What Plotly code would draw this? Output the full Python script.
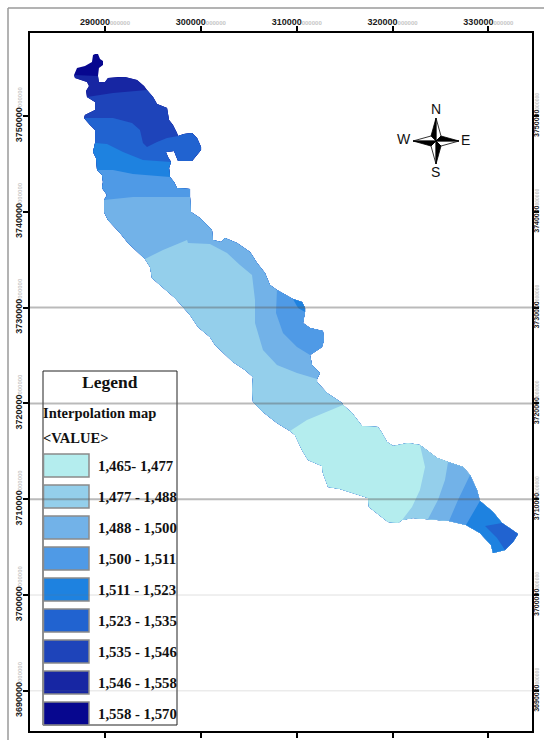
import numpy as np
import plotly.graph_objects as go

# ---------- data ----------
X_TICKS = [290000, 300000, 310000, 320000, 330000]
Y_TICKS = [3690000, 3700000, 3710000, 3720000, 3730000, 3740000, 3750000]
X_RANGE = [282175, 334549]
Y_RANGE = [3685808, 3758665]
GRID_DARK = [3730000, 3720000, 3710000]
GRID_LIGHT = [3700000, 3690000]

LEGEND_LABELS = ["1,465- 1,477", "1,477 - 1,488", "1,488 - 1,500", "1,500 - 1,511", "1,511 - 1,523",
                 "1,523 - 1,535", "1,535 - 1,546", "1,546 - 1,558", "1,558 - 1,570"]
CLASS_COLORS = ["#B4EDEE", "#94CFEB", "#72B2E8", "#4F9AE6", "#1E82E0", "#2163D0", "#1E44BA", "#1726A3", "#07078F"]

OUTLINE_E = [288960, 289270, 289480, 289790, 289790, 289370, 289270, 289370, 290000, 290310, 291360, 292090, 293340,
             294070, 294380, 295010, 295430, 296470, 296680, 297090, 297510, 297620, 298240, 299080, 299600, 300020,
             300020, 299390, 299080, 297620, 297410, 297200, 296360, 296570, 296890, 296680, 296780, 296780, 297200,
             297510, 298870, 298870, 298970, 299910, 301160, 301270, 302100, 302520, 303770, 305130, 305860, 306690,
             307210, 307940, 309610, 310550, 310870, 310870, 310660, 311390, 312740, 312850, 312640, 311390, 311600,
             312430, 312120, 312120, 313160, 314730, 314830, 315770, 316810, 318480, 318900, 319420, 320050, 321610,
             322860, 324640, 325790, 327350, 328080, 328810, 329120, 330480, 331420, 333090, 332570, 331730, 330480,
             330270, 329120, 327660, 325890, 323700, 322130, 320990, 320570, 319530, 318380, 317540, 317440, 315770,
             314520, 313270, 312740, 312640, 311180, 310550, 309820, 309300, 307940, 306480, 305440, 305340, 305440,
             304610, 303350, 301480, 300950, 299700, 298870, 297300, 296050, 294900, 294700, 294170, 292400, 291570,
             290310, 289900, 289900, 290210, 289690, 289790, 289690, 289170, 289060, 288750, 288960, 288960, 288440,
             287810, 287910, 288960, 288960, 288120, 288020, 288330, 288120, 286870, 286770, 287080, 287910, 288640,
             288750]
OUTLINE_N = [3756470, 3756470, 3755950, 3755740, 3755330, 3755010, 3754180, 3753550, 3753550, 3753970, 3754070,
             3754070, 3753760, 3753130, 3752720, 3751980, 3751250, 3750840, 3749580, 3749060, 3748230, 3747910,
             3748120, 3748230, 3747710, 3746770, 3746450, 3745720, 3745310, 3745310, 3745930, 3746350, 3746240,
             3745720, 3745200, 3744570, 3743840, 3743640, 3743110, 3742490, 3742380, 3741550, 3739980, 3739360,
             3738100, 3737060, 3736850, 3737270, 3736750, 3735810, 3734660, 3733610, 3732360, 3731840, 3730900,
             3730590, 3729960, 3729540, 3728400, 3727870, 3727560, 3726620, 3725890, 3725060, 3724010, 3723180,
             3722550, 3722240, 3721090, 3720050, 3719840, 3719000, 3717640, 3717540, 3716910, 3715970, 3715560,
             3715870, 3715660, 3714300, 3713890, 3713360, 3712530, 3710960, 3709820, 3708670, 3707520, 3706370,
             3705540, 3704700, 3704390, 3705220, 3706480, 3707310, 3707730, 3707940, 3708040, 3707830, 3707520,
             3707620, 3708560, 3709190, 3710130, 3710650, 3711070, 3711280, 3712740, 3713470, 3714100, 3715140,
             3716710, 3717120, 3717960, 3719110, 3720150, 3721400, 3722760, 3723490, 3724320, 3726100, 3726930,
             3727980, 3729230, 3731010, 3732050, 3733090, 3734240, 3735080, 3736750, 3737790, 3739150, 3739980,
             3741230, 3741760, 3742490, 3743110, 3743840, 3744370, 3745620, 3746240, 3747180, 3748540, 3749060,
             3749790, 3750110, 3750630, 3751460, 3751980, 3752610, 3753130, 3753550, 3753970, 3754280, 3755010,
             3755220, 3755640, 3756370]

# class boundaries: each runs from its first outline point to its last
BOUNDARY_1546_E = [286770, 289270]
BOUNDARY_1546_N = [3754280, 3754180]
BOUNDARY_1535_E = [288120, 290830, 294380]
BOUNDARY_1535_N = [3751980, 3752400, 3752720]
BOUNDARY_1523_E = [287810, 290830, 292820, 293650, 293960, 294380, 295430, 296470, 297620]
BOUNDARY_1523_N = [3749790, 3749790, 3749270, 3748540, 3747180, 3746770, 3747290, 3747710, 3747910]
BOUNDARY_1511_E = [288960, 290210, 291880, 293960, 296890]
BOUNDARY_1511_N = [3747180, 3747080, 3746240, 3745410, 3745200]
BOUNDARY_1500_E = [289170, 290830, 292920, 296780]
BOUNDARY_1500_N = [3744370, 3744370, 3743950, 3743640]
BOUNDARY_1488_E = [289900, 292920, 296470, 298870]
BOUNDARY_1488_N = [3741230, 3741550, 3741550, 3741550]
BOUNDARY_1477_E = [294170, 296050, 298560, 298660, 300950, 302730, 304080, 305340, 305650, 305650, 306480, 307940,
                   310030, 312120]
BOUNDARY_1477_N = [3735080, 3736020, 3737060, 3736750, 3736640, 3735700, 3734450, 3733410, 3730800, 3728400, 3725580,
                   3724010, 3723180, 3722550]
BOUNDARY_1465_E = [309300, 311070, 314830]
BOUNDARY_1465_N = [3717120, 3718270, 3719840]
SE_1477_E = [320990, 322030, 322860, 323390, 322860]
SE_1477_N = [3707830, 3709190, 3710960, 3713360, 3715660]
SE_1488_E = [323700, 324740, 325470, 325790]
SE_1488_N = [3707940, 3709920, 3712010, 3713890]
SE_1500_E = [325890, 326830, 328080]
SE_1500_N = [3707730, 3709920, 3712530]
SE_1511_E = [327660, 328290, 329120]
SE_1511_N = [3707310, 3708350, 3709820]
SE_1523_E = [331730, 330900, 329650, 331420]
SE_1523_N = [3704700, 3705950, 3707210, 3707520]
EAST_1500_E = [311390, 310030, 308570, 307840, 307940]
EAST_1500_N = [3725060, 3725890, 3727350, 3729440, 3731840]
EAST_1511_E = [310870, 310140, 309610]
EAST_1511_N = [3729540, 3729960, 3730900]

PAINT_ORDER = [
    (7, BOUNDARY_1546_E, BOUNDARY_1546_N), (6, BOUNDARY_1535_E, BOUNDARY_1535_N),
    (5, BOUNDARY_1523_E, BOUNDARY_1523_N), (4, BOUNDARY_1511_E, BOUNDARY_1511_N),
    (3, BOUNDARY_1500_E, BOUNDARY_1500_N), (2, BOUNDARY_1488_E, BOUNDARY_1488_N),
    (1, BOUNDARY_1477_E, BOUNDARY_1477_N), (0, BOUNDARY_1465_E, BOUNDARY_1465_N),
    (1, SE_1477_E, SE_1477_N), (2, SE_1488_E, SE_1488_N), (3, SE_1500_E, SE_1500_N),
    (4, SE_1511_E, SE_1511_N), (5, SE_1523_E, SE_1523_N),
    (3, EAST_1500_E, EAST_1500_N), (4, EAST_1511_E, EAST_1511_N),
]

# ---------- layout frame ----------
W, H = 544, 740
L, R, T, B = 30, 532, 33, 731


def px(x):
    return (x - L) / (R - L)


def py(y):
    return 1 - (y - T) / (B - T)


oe, on = np.array(OUTLINE_E), np.array(OUTLINE_N)


def nearest(e, n):
    return int(np.argmin((oe - e) ** 2 + (on - n) ** 2))


def region(be, bn):
    """Boundary line, then the outline clockwise from its last point back to its first."""
    i, j = nearest(be[-1], bn[-1]), nearest(be[0], bn[0])
    idx = [(i + k) % len(oe) for k in range((j - i) % len(oe) + 1)]
    return list(be) + oe[idx].tolist(), list(bn) + on[idx].tolist()


fig = go.Figure()


def add_poly(e, n, color):
    fig.add_trace(go.Scatter(x=e, y=n, mode="lines", fill="toself", fillcolor=color,
                             line=dict(width=0, color=color), hoverinfo="skip", showlegend=False))


add_poly(OUTLINE_E, OUTLINE_N, CLASS_COLORS[8])
for cls, be, bn in PAINT_ORDER:
    e, n = region(be, bn)
    add_poly(e, n, CLASS_COLORS[cls])

# keeps the right-hand axis alive
fig.add_trace(go.Scatter(x=[X_TICKS[0]], y=[Y_TICKS[0]], yaxis="y2", mode="none", hoverinfo="skip", showlegend=False))

SUFFIX = "<span style='font-size:6px;color:#c6c6c6'>000000</span>"
SUFFIX_RIGHT = "<span style='font-size:5px;color:#c6c6c6'>000000</span>"
tick_font = dict(family="Liberation Sans", size=9, color="#1a1a1a", weight="bold")
right_font = dict(family="Liberation Sans", size=7, color="#1a1a1a", weight="bold")
xt = [f"{v}{SUFFIX}" for v in X_TICKS]
yt = [f"{v}{SUFFIX}" for v in Y_TICKS]
yt_right = [f"{v}{SUFFIX_RIGHT}" for v in Y_TICKS]

shapes, annotations = [], []
# page border
for x0, y0, x1, y1 in [(8, 8, 544, 8), (8, 8, 8, 740)]:
    shapes.append(dict(type="line", xref="paper", yref="paper", x0=px(x0), x1=px(x1), y0=py(y0), y1=py(y1),
                       line=dict(color="#9a9a9a", width=1.5)))

# legend
LEG_L, LEG_R, LEG_T, LEG_B = 43, 177, 371, 725
shapes.append(dict(type="rect", xref="paper", yref="paper", x0=px(LEG_L), x1=px(LEG_R), y0=py(LEG_B), y1=py(LEG_T),
                   fillcolor="white", line=dict(color="#222222", width=1), layer="above"))
serif = "Liberation Serif"


def label(x, y, text, size, anchor="left", family=serif, color="#111111"):
    annotations.append(dict(xref="paper", yref="paper", x=px(x), y=py(y), text=text, showarrow=False, xanchor=anchor,
                            yanchor="middle", font=dict(family=family, size=size, color=color),
                            borderpad=0, borderwidth=0))


label(110, 382, "<b>Legend</b>", 17.5, "center")
label(43, 413, "<b>Interpolation map</b>", 14.5)
label(43, 438, "<b>&lt;VALUE&gt;</b>", 14.5)
for k, (lab, col) in enumerate(zip(LEGEND_LABELS, CLASS_COLORS)):
    top = 454 + 31 * k
    shapes.append(dict(type="rect", xref="paper", yref="paper", x0=px(43.5), x1=px(89), y0=py(top + 23), y1=py(top),
                       fillcolor=col, line=dict(color="#8a8a8a", width=1.5), layer="above"))
    label(98, top + 12, f"<b>{lab}</b>", 14.8)

# reference lines, on top of everything
for v in GRID_DARK:
    shapes.append(dict(type="line", xref="paper", yref="y", x0=0, x1=1, y0=v, y1=v, layer="above",
                       line=dict(color="rgba(90,90,90,0.42)", width=2)))
for v in GRID_LIGHT:
    shapes.append(dict(type="line", xref="paper", yref="y", x0=0, x1=1, y0=v, y1=v, layer="above",
                       line=dict(color="rgba(120,120,120,0.22)", width=1)))

# compass
CX, CY, ARM, IN = 436, 141, 23, 5
DIRS = [((0, -1), (-1, -1), (1, -1)), ((1, 0), (1, -1), (1, 1)), ((0, 1), (1, 1), (-1, 1)), ((-1, 0), (-1, 1), (-1, -1))]


def star_path(pts):
    return "M " + " L ".join(f"{px(CX + a)},{py(CY + b)}" for a, b in pts) + " Z"


for tip, black, white in DIRS:
    t = (tip[0] * ARM, tip[1] * ARM)
    shapes.append(dict(type="path", xref="paper", yref="paper", layer="above",
                       path=star_path([t, (white[0] * IN, white[1] * IN), (0, 0)]),
                       fillcolor="white", line=dict(color="black", width=0.8)))
    shapes.append(dict(type="path", xref="paper", yref="paper", layer="above",
                       path=star_path([t, (black[0] * IN, black[1] * IN), (0, 0)]),
                       fillcolor="black", line=dict(color="black", width=0.8)))
sans = "Liberation Sans"
label(435.5, 109, "N", 14, "center", sans)
label(435.5, 172, "S", 14, "center", sans)
label(404, 139, "W", 14, "center", sans)
label(465, 140, "E", 14, "center", sans)

axis_common = dict(showgrid=False, zeroline=False, showline=True, linecolor="black", linewidth=2, ticks="outside",
                   ticklen=5, tickwidth=1.5, tickcolor="black", fixedrange=True, automargin=False)

fig.update_layout(
    width=W, height=H, margin=dict(l=L, r=W - R, t=T, b=H - B, autoexpand=False), paper_bgcolor="white",
    plot_bgcolor="white", showlegend=False, shapes=shapes, annotations=annotations,
    xaxis=dict(range=X_RANGE, side="top", mirror="allticks", tickmode="array", tickvals=X_TICKS, ticktext=xt,
               tickangle=0, tickfont=tick_font, ticklabelstandoff=-3, **axis_common),
    yaxis=dict(range=Y_RANGE, side="left", mirror=True, tickmode="array", tickvals=Y_TICKS, ticktext=yt,
               tickangle=-90, tickfont=tick_font, ticklabelstandoff=-3, **axis_common),
    yaxis2=dict(range=Y_RANGE, side="right", overlaying="y", tickmode="array", tickvals=Y_TICKS, ticktext=yt_right,
                tickangle=-90, tickfont=right_font, ticklabelstandoff=-8, **axis_common),
)

fig.write_html("out.html", config={"displayModeBar": False},
               post_script="document.body.style.margin='0';document.body.style.overflow='hidden';")
